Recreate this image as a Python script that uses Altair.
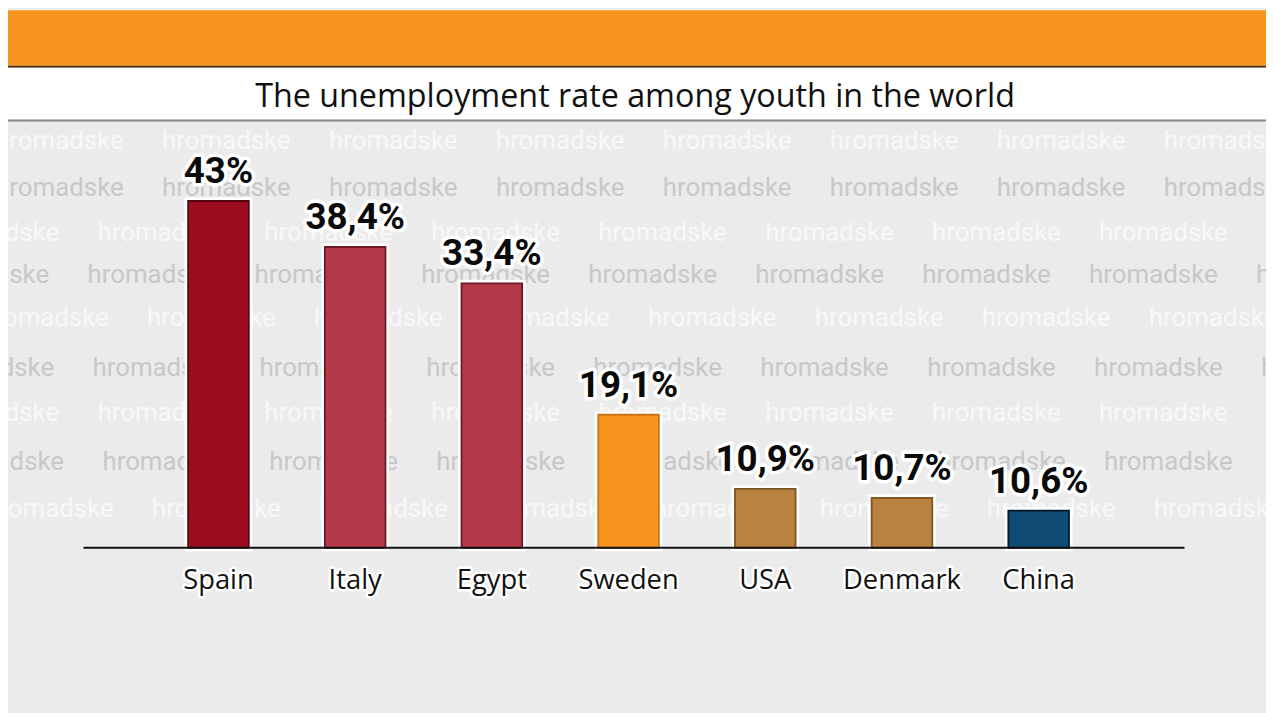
import altair as alt
import pandas as pd

# ---- data ----
countries = ["Spain", "Italy", "Egypt", "Sweden", "USA", "Denmark", "China"]
rates = [43, 38.4, 33.4, 19.1, 10.9, 10.7, 10.6]           # printed labels (%)
bar_heights = [43, 37.3, 32.8, 16.5, 7.3, 6.2, 4.6]         # drawn bar heights
fills = ["#9c0c1f", "#b4394b", "#b4394b", "#f7941d", "#b9833f", "#b9833f", "#0f4b74"]
strokes = ["#55060f", "#6a1a25", "#6a1a25", "#c9731a", "#7d5423", "#7d5423", "#04182a"]
title_text = "The unemployment rate among youth in the world"

labels = [f"{v:g}".replace(".", ",") + "%" for v in rates]
df = pd.DataFrame({"country": countries, "rate": rates, "h": bar_heights, "label": labels})

# canvas and plot-area geometry (pixels)
W, H = 1266, 705
OX, OY = 143, 192          # plot area origin inside the canvas
PW, PH = 963, 349          # plot area size
PAD = {"left": OX, "top": OY, "right": W - OX - PW, "bottom": H - OY - PH}

xscale = alt.Scale(domain=countries, paddingInner=0.5564, paddingOuter=0.2782)
yscale = alt.Scale(domain=[0, 43])
cscale = alt.Scale(domain=countries, range=fills)
sscale = alt.Scale(domain=countries, range=strokes)

X = alt.X("country:N", scale=xscale, axis=None, sort=countries)
Y = alt.Y("h:Q", scale=yscale, axis=None)

one = pd.DataFrame({"k": [0]})


def band(y0, y1, color):
    return alt.Chart(one).mark_rect(color=color).encode(
        x=alt.value(-OX), x2=alt.value(W - OX), y=alt.value(y0 - OY), y2=alt.value(y1 - OY))


# ---- decorations ----
orange = band(0, 56, "#f7941d")
oshadow = band(56, 58, "#4a2a08")
white = band(58, 110, "#ffffff")
wshadow = band(110, 112, "#8a8a8a")
title = alt.Chart(one).mark_text(
    text=title_text, font="Open Sans", fontSize=32.5, color="#111111",
    align="center", baseline="alphabetic").encode(x=alt.value(631 - OX), y=alt.value(97 - OY))

# ---- watermark (identity projection = raw pixel positions) ----
row_y = [132, 179, 224, 267, 310, 360, 405, 455, 502]
row_start = [-13, -13, -78, -88, -28, -83, -78, -73, -23]
wm = []
for i, (ry, rs) in enumerate(zip(row_y, row_start)):
    for k in range(9):
        wm.append({"wx": rs + 168 * k, "wy": ry, "kind": "w" if i % 2 == 0 else "g"})
wmdf = pd.DataFrame(wm)


def wm_layer(kind, color):
    return alt.Chart(wmdf[wmdf.kind == kind]).mark_text(
        text="hromadske", font="Roboto", fontSize=26, color=color, align="left",
        baseline="middle", clip=False
    ).encode(longitude="wx:Q", latitude="wy:Q").project(
        type="identity", scale=1, translate=[-OX, -OY])


wm_white = wm_layer("w", "#f8f8f8")
wm_gray = wm_layer("g", "#c8c8c8")

# ---- bars & labels ----
base = alt.Chart(df)
glow = base.mark_bar(color="#ffffff", stroke="#ffffff", strokeWidth=7).encode(
    x=X, y=Y, y2=alt.datum(0))
bars = base.mark_bar(strokeWidth=1.8).encode(
    x=X, y=Y, y2=alt.datum(0),
    color=alt.Color("country:N", scale=cscale, legend=None),
    stroke=alt.Stroke("country:N", scale=sscale, legend=None))
axisline = alt.Chart(one).mark_rule(color="#111111", strokeWidth=2).encode(
    x=alt.value(76 - OX), x2=alt.value(1184 - OX), y=alt.value(PH))
lab_halo = base.mark_text(font="Roboto", fontSize=37, fontWeight="bold", color="#ffffff",
                          stroke="#ffffff", strokeWidth=7, strokeJoin="round",
                          baseline="alphabetic", dy=-18).encode(x=X, y=Y, text="label:N")
lab = base.mark_text(font="Roboto", fontSize=37, fontWeight="bold", color="#0a0a0a",
                     baseline="alphabetic", dy=-18).encode(x=X, y=Y, text="label:N")
cty_halo = base.mark_text(font="Open Sans", fontSize=27.5, color="#ffffff", stroke="#ffffff",
                          strokeWidth=5, strokeJoin="round", baseline="alphabetic").encode(
    x=X, y=alt.value(582 - OY), text="country:N")
cty = base.mark_text(font="Open Sans", fontSize=27.5, color="#111111", baseline="alphabetic").encode(
    x=X, y=alt.value(582 - OY), text="country:N")

chart = alt.layer(
    orange, oshadow, white, wshadow, title, wm_white, wm_gray,
    glow, bars, axisline, lab_halo, lab, cty_halo, cty
).properties(
    width=PW, height=PH, background="#ebebeb", padding=PAD,
    autosize=alt.AutoSizeParams(type="none")
).configure_view(stroke=None)

chart.save("out.html", embed_options={"renderer": "svg", "actions": False})
